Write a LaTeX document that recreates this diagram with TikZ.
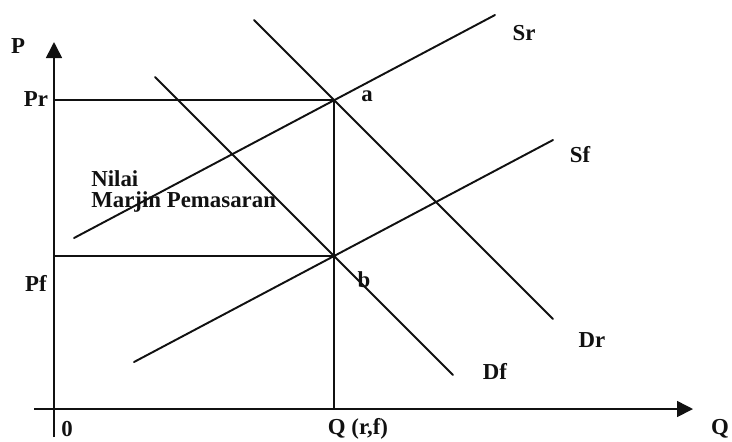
\documentclass[tikz,border=0pt]{standalone}
\usepackage{fontspec}
\setmainfont{Liberation Serif}
\usetikzlibrary{arrows.meta,calc}
\definecolor{ink}{HTML}{111111}
\tikzset{
  axis/.style={-{Triangle[length=3.2mm,width=3.2mm]},line width=0.9pt,draw=ink},
  curve/.style={line width=1.1pt,draw=ink,line cap=round},
  guide/.style={line width=0.9pt,draw=ink},
  lbl/.style={font=\bfseries\fontsize{13}{15}\selectfont,text=ink,inner sep=0pt}
}

\begin{document}
\begin{tikzpicture}[x=0.02cm,y=-0.02cm]
    \useasboundingbox (0,0) rectangle (732,441);
    \coordinate (o) at (54,409);
    \coordinate (ytop) at (54,42); \coordinate (ybot) at (54,437);
    \coordinate (xleft) at (34,409); \coordinate (xright) at (693,409);
    \coordinate (Sr0) at (74,238); \coordinate (Sr1) at (495,15);
    \coordinate (Dr0) at (254,20); \coordinate (Dr1) at (553,319);
    \coordinate (Sf0) at (134,362); \coordinate (Sf1) at (553,140);
    \coordinate (Df0) at (155,77); \coordinate (Df1) at (453,375);
    \coordinate (a) at (intersection of Sr0--Sr1 and Dr0--Dr1);
    \coordinate (b) at (intersection of Sf0--Sf1 and Df0--Df1);
    \draw[axis] (ybot) -- (ytop);
    \draw[axis] (xleft) -- (xright);
    \draw[guide] (a -| o) -- (a) -- (a |- o);
    \draw[guide] (b -| o) -- (b);
    \draw[curve] (Sr0) -- (Sr1); \draw[curve] (Dr0) -- (Dr1);
    \draw[curve] (Sf0) -- (Sf1); \draw[curve] (Df0) -- (Df1);
    \fill[ink] (b) circle (2.2);
    \node[lbl] (lP) at (18,46) {P};
    \node[lbl] (lPr) at (36,99) {Pr};
    \node[lbl] (lPf) at (36,283) {Pf};
    \node[lbl] (l0) at (67,429) {0};
    \node[lbl] (lQrf) at (358,429) {Q (r,f)};
    \node[lbl] (lQ) at (720,429) {Q};
    \node[lbl] (la) at (367,96) {a};
    \node[lbl] (lb) at (364,280) {b};
    \node[lbl] (lSr) at (524,33) {Sr};
    \node[lbl] (lSf) at (580,155) {Sf};
    \node[lbl] (lDr) at (592,340) {Dr};
    \node[lbl] (lDf) at (495,371) {Df};
    \node[lbl,anchor=north west,align=left,font=\bfseries\fontsize{13}{12}\selectfont] (marjin) at (91,170) {Nilai\\Marjin Pemasaran};
  \end{tikzpicture}
\end{document}
